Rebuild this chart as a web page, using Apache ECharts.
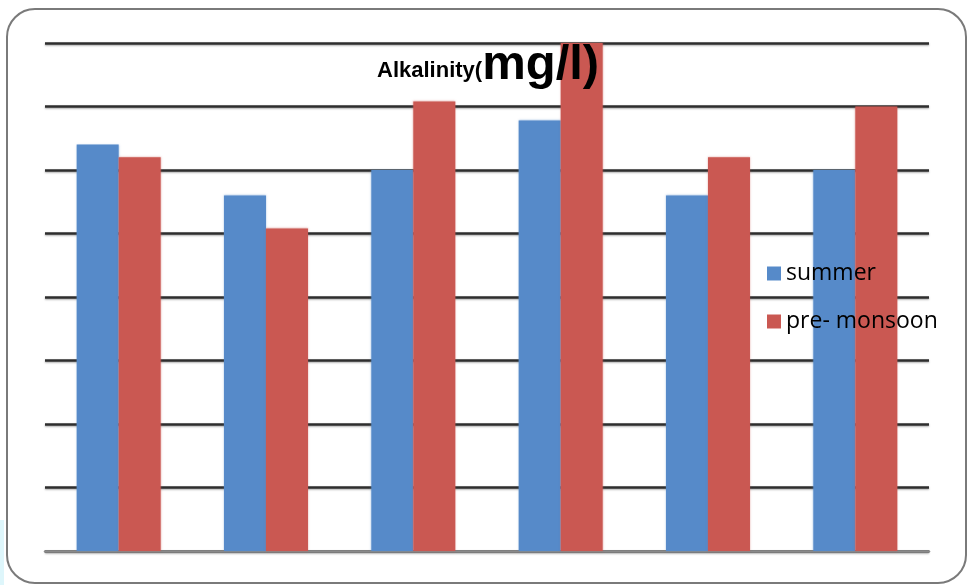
<!DOCTYPE html>
<html>
<head>
<meta charset="utf-8">
<script src="https://cdn.jsdelivr.net/npm/echarts@6/dist/echarts.min.js"></script>
<style>
  html, body { margin: 0; padding: 0; background: #ffffff; }
  #chart { width: 968px; height: 585px; }
</style>
</head>
<body>
<div id="chart"></div>
<script>
// Alkalinity by site, summer vs pre-monsoon (mg/l)
const sites = ['1', '2', '3', '4', '5', '6'];
const summer = [320, 280, 300, 339, 280, 300];
const preMonsoon = [310, 254, 354, 400, 310, 350];
const seriesNames = ['summer', 'pre- monsoon'];

const chart = echarts.init(document.getElementById('chart'), null, { renderer: 'canvas' });

chart.setOption({
  animation: false,
  backgroundColor: '#ffffff',
  color: ['#568AC9', '#CA5852'],
  title: {
    text: '{a|Alkalinity(}{b|mg/l)}',
    left: 372,
    top: 36,
    textStyle: {
      rich: {
        a: { fontFamily: 'Liberation Sans', fontWeight: 'bold', fontSize: 22, color: '#000', verticalAlign: 'bottom', padding: [0, 0, 8, 0] },
        b: { fontFamily: 'Liberation Sans', fontWeight: 'bold', fontSize: 49, color: '#000', verticalAlign: 'bottom' }
      }
    },
    z: 10
  },
  legend: {
    orient: 'vertical',
    left: 762,
    top: 257,
    itemWidth: 14,
    itemHeight: 14,
    itemGap: 25,
    icon: 'rect',
    textStyle: { fontFamily: 'Open Sans', fontSize: 23, color: '#000' },
    data: seriesNames
  },
  grid: { left: 45, right: 39, top: 43, bottom: 34 },
  xAxis: {
    type: 'category',
    data: sites,
    axisLine: { show: true, lineStyle: { color: '#8a8a8a', width: 2.5 } },
    axisTick: { show: false },
    axisLabel: { show: false }
  },
  yAxis: {
    type: 'value',
    min: 0,
    max: 400,
    interval: 50,
    axisLine: { show: false },
    axisTick: { show: false },
    axisLabel: { show: false },
    splitLine: {
      lineStyle: { color: '#2e2e2e', width: 2.5, shadowColor: 'rgba(0,0,0,0.35)', shadowBlur: 2, shadowOffsetY: 1 }
    }
  },
  series: [
    {
      name: seriesNames[0],
      type: 'bar',
      data: summer,
      barGap: '0%',
      barCategoryGap: '43%',
      itemStyle: { shadowColor: 'rgba(86,138,201,0.5)', shadowBlur: 2 }
    },
    {
      name: seriesNames[1],
      type: 'bar',
      data: preMonsoon,
      itemStyle: { shadowColor: 'rgba(202,88,82,0.5)', shadowBlur: 2 }
    }
  ],
  graphic: [
    {
      type: 'rect',
      shape: { x: 7, y: 9, width: 959, height: 574, r: 28 },
      style: { fill: 'none', stroke: '#7a7a7a', lineWidth: 2 },
      silent: true,
      z: -1
    },
    {
      type: 'rect',
      shape: { x: 0, y: 520, width: 4, height: 65 },
      style: { fill: 'rgba(200,240,248,0.6)' },
      silent: true,
      z: -2
    }
  ]
});
</script>
</body>
</html>
